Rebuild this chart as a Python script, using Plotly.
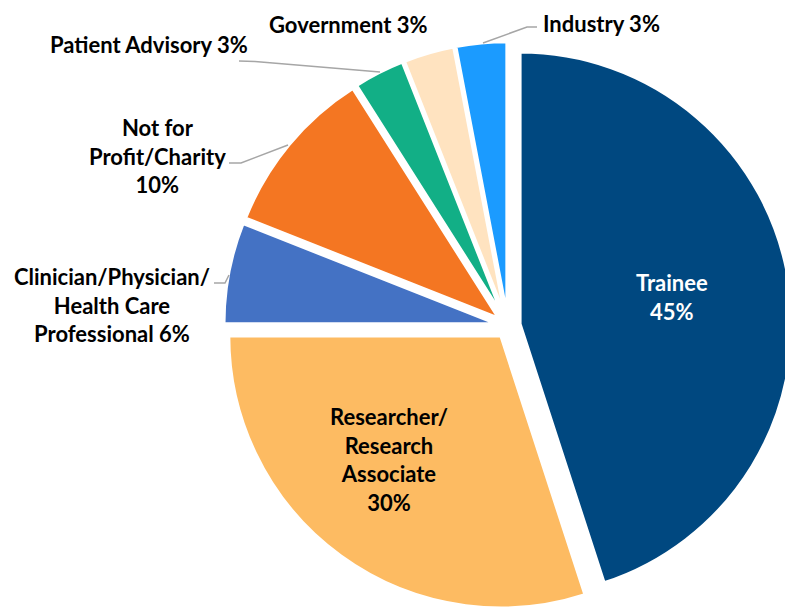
import plotly.graph_objects as go

# ---- data ----
categories = [
    "Trainee",
    "Researcher/Research Associate",
    "Clinician/Physician/Health Care Professional",
    "Not for Profit/Charity",
    "Patient Advisory",
    "Government",
    "Industry",
]
values = [45, 30, 6, 10, 3, 3, 3]
# wrapped category text used for the data labels
label_text = [
    "Trainee",
    "Researcher/<br>Research<br>Associate",
    "Clinician/Physician/<br>Health Care<br>Professional",
    "Not for<br>Profit/Charity",
    "Patient Advisory",
    "Government",
    "Industry",
]
colors = ["#004880", "#FDBB62", "#4472C4", "#F47622", "#12AF86", "#FFE3C0", "#1B9BFF"]

W, H = 793, 607
OFF = 8  # page body margin: the figure is drawn 8px right/down in the window
PULL = 0.045
R = 272.0
CX, CY = 508.0 - OFF, 326.0 - OFF
half = R * (1 + PULL)


def px(x, y):
    """window pixel -> paper coordinate"""
    return (x - OFF) / W, 1 - (y - OFF) / H


fig = go.Figure(
    go.Pie(
        labels=categories,
        values=values,
        sort=False,
        direction="clockwise",
        rotation=0,
        pull=[PULL] * len(values),
        marker=dict(colors=colors, line=dict(color="white", width=3)),
        textinfo="none",
        hoverinfo="label+percent",
        domain=dict(
            x=[(CX - half) / W, (CX + half) / W],
            y=[1 - (CY + half) / H, 1 - (CY - half) / H],
        ),
    )
)

total = sum(values)
pct = [f"{round(v * 100 / total)}%" for v in values]

# label placement (window pixel centres), separator and colour
label_pos = [
    (672, 297, "<br>", "white"),
    (389, 459, "<br>", "black"),
    (112, 305, " ", "black"),
    (157, 156, "<br>", "black"),
    (149, 45, " ", "black"),
    (348, 25, " ", "black"),
    (601, 23, " ", "black"),
]

annotations = []
for i, (x, y, sep, col) in enumerate(label_pos):
    ax, ay = px(x, y)
    annotations.append(
        dict(
            x=ax, y=ay, xref="paper", yref="paper",
            xanchor="center", yanchor="middle",
            text=f"<b>{label_text[i]}{sep}{pct[i]}</b>",
            showarrow=False, align="center",
            font=dict(family="Lato", size=22, color=col),
        )
    )

# leader lines (window pixel coordinates of the label connectors)
leaders = [
    [(214, 283), (225, 283), (229, 275)],
    [(229, 163), (241, 163), (288, 145)],
    [(239, 61), (255, 61.5), (380, 72)],
    [(483, 43), (527, 27), (537, 27)],
]
shapes = []
for pts in leaders:
    d = ""
    for k, (x, y) in enumerate(pts):
        sx, sy = px(x, y)
        d += ("M" if k == 0 else " L") + f" {sx:.5f},{sy:.5f}"
    shapes.append(dict(type="path", path=d, xref="paper", yref="paper",
                       line=dict(color="#A6A6A6", width=1.5)))

fig.update_layout(
    width=W, height=H,
    margin=dict(l=0, r=0, t=0, b=0),
    paper_bgcolor="white",
    plot_bgcolor="white",
    showlegend=False,
    annotations=annotations,
    shapes=shapes,
)

fig.write_html("out.html")
